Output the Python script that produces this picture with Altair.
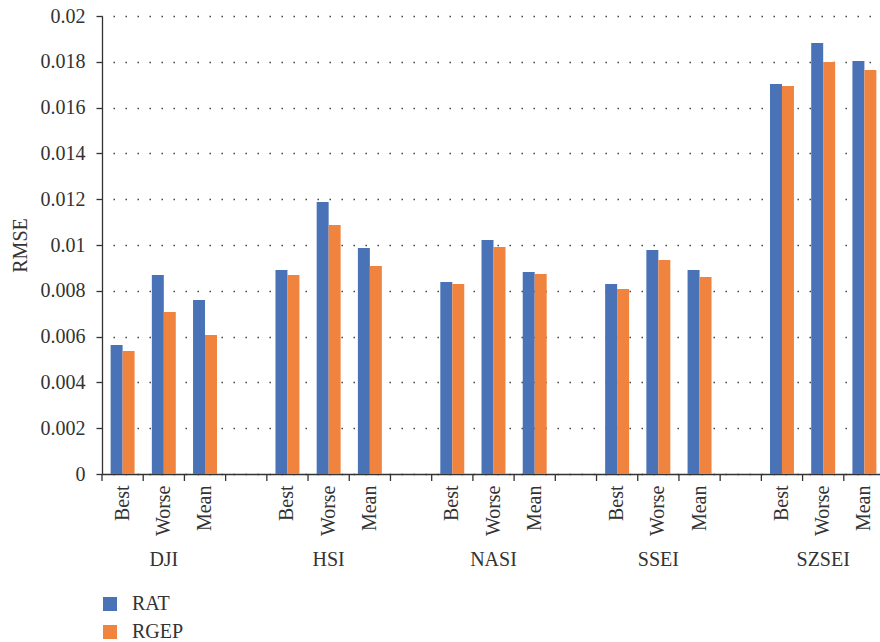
import altair as alt
import pandas as pd

# Markets, statistics and models
groups = ["DJI", "HSI", "NASI", "SSEI", "SZSEI"]
measures = ["Best", "Worse", "Mean"]
series = ["RAT", "RGEP"]

# RMSE per market (Best, Worse, Mean)
rat_rmse = [0.00563, 0.00869, 0.00760,
            0.00891, 0.01188, 0.00987,
            0.00838, 0.01022, 0.00882,
            0.00830, 0.00978, 0.00891,
            0.01703, 0.01882, 0.01803]
rgep_rmse = [0.00537, 0.00707, 0.00607,
             0.00869, 0.01087, 0.00908,
             0.00830, 0.00991, 0.00873,
             0.00808, 0.00934, 0.00860,
             0.01694, 0.01799, 0.01764]

y_ticks = [0, 0.002, 0.004, 0.006, 0.008, 0.01, 0.012, 0.014, 0.016, 0.018, 0.02]

colors = ["#4A73B7", "#F0833E"]
text_color = "#333333"
font = "Liberation Serif"

# One band per statistic, with an empty band between markets
slots = []
for i, g in enumerate(groups):
    for m in measures:
        slots.append(f"{g}|{m}")
    if i < len(groups) - 1:
        slots.append(f"gap{i}")

rows = []
for gi, g in enumerate(groups):
    for mi, m in enumerate(measures):
        k = gi * len(measures) + mi
        for s, vals in zip(series, [rat_rmse, rgep_rmse]):
            rows.append({"slot": f"{g}|{m}", "group": g, "measure": m,
                         "series": s, "rmse": vals[k]})
df = pd.DataFrame(rows)
group_df = pd.DataFrame({"group": groups, "slot": [f"{g}|Worse" for g in groups]})
slot_df = pd.DataFrame({"slot": slots})

# The band axis runs a little past the right edge of the canvas
x_scale = alt.Scale(domain=slots, range=[0, 783], paddingInner=0, paddingOuter=0)

bars = alt.Chart(df).mark_bar().encode(
    x=alt.X("slot:N", sort=slots, scale=x_scale,
            axis=alt.Axis(title=None, grid=False, ticks=False,
                          labelAngle=270, labelPadding=11, labelFontSize=20,
                          labelFont=font, labelColor=text_color, labelOverlap=False,
                          domainColor=text_color, domainWidth=1.3,
                          labelExpr="indexof(datum.value, '|') > 0 ? "
                                    "slice(datum.value, indexof(datum.value, '|') + 1) : ''")),
    xOffset=alt.XOffset("series:N", sort=series,
                        scale=alt.Scale(domain=series, paddingInner=0, paddingOuter=0.72)),
    y=alt.Y("rmse:Q", scale=alt.Scale(domain=[0, 0.02], nice=False),
            axis=alt.Axis(title="RMSE", values=y_ticks, format="~f",
                          tickSize=6, labelPadding=11, labelFontSize=20,
                          labelFont=font, labelColor=text_color,
                          titleFont=font, titleFontSize=20, titleFontWeight="normal",
                          titleColor=text_color, titlePadding=10,
                          domainColor=text_color, tickColor=text_color,
                          domainWidth=1.3, tickWidth=1.3,
                          grid=True, gridDash=[1.5, 10.5], gridDashOffset=1,
                          gridColor="#444444", gridWidth=1.3)),
    color=alt.Color("series:N", sort=series,
                    scale=alt.Scale(domain=series, range=colors),
                    legend=alt.Legend(title=None, orient="none", legendX=-2, legendY=578,
                                      symbolType="square", symbolSize=196,
                                      symbolStrokeWidth=0, labelFontSize=20,
                                      labelFont=font, labelColor=text_color,
                                      labelOffset=12, rowPadding=8, padding=0)),
)

# Tick marks on the boundaries between bands
slot_ticks = alt.Chart(slot_df).mark_rule(color=text_color, strokeWidth=1.3).encode(
    x=alt.X("slot:N", sort=slots, scale=x_scale, bandPosition=0),
    y=alt.value(458),
    y2=alt.value(465),
)

group_labels = alt.Chart(group_df).mark_text(
    font=font, fontSize=20, color=text_color, baseline="alphabetic", align="center"
).encode(
    x=alt.X("slot:N", sort=slots, scale=x_scale),
    y=alt.value(550),
    text="group:N",
)

chart = alt.layer(bars, slot_ticks, group_labels).properties(
    width=778, height=458,
    autosize=alt.AutoSizeParams(type="none"),
    padding={"left": 102, "top": 16, "right": 0, "bottom": 168},
).configure_view(stroke=None)

chart.save("out.html", embed_options={"renderer": "svg", "actions": False})
